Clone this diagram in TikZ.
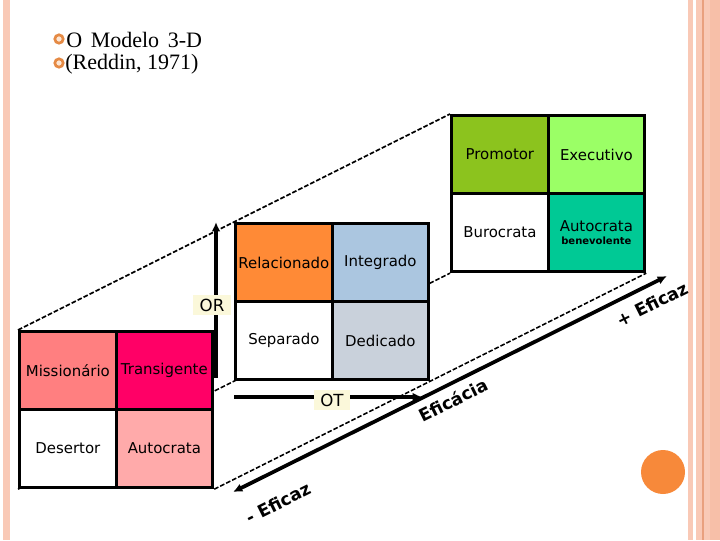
\documentclass[tikz,border=0pt]{standalone}
\usepackage{fontspec}
\setmainfont{Liberation Serif}
\newfontfamily\verd{DejaVu Sans}
\usetikzlibrary{arrows.meta,backgrounds}
\definecolor{stripe}{HTML}{F9C9B6}
\definecolor{stripeB}{HTML}{F7BFA8}
\definecolor{stripeLine}{HTML}{E9A07E}
\definecolor{bulletc}{HTML}{E58A45}
\definecolor{bulletin}{HTML}{FCE6D4}
\definecolor{cPro}{HTML}{8CC31E}
\definecolor{cExe}{HTML}{9BFF66}
\definecolor{cAut}{HTML}{00C995}
\definecolor{cRel}{HTML}{FF8A36}
\definecolor{cInt}{HTML}{ABC6E0}
\definecolor{cDed}{HTML}{C9D1DB}
\definecolor{cMis}{HTML}{FF7F80}
\definecolor{cTra}{HTML}{FF0066}
\definecolor{cAul}{HTML}{FFAAAA}
\definecolor{dotc}{HTML}{F7893A}
\definecolor{labbg}{HTML}{FBF8DA}
\tikzset{
  cell/.style={draw=black, line width=2.4pt, minimum width=72.4pt, minimum height=58.5pt,
    inner sep=0pt, anchor=north west, font=\verd\fontsize{11.2}{13}\selectfont},
  dashline/.style={draw=black, line width=1.2pt, dash pattern=on 3.5pt off 1.5pt},
  axislabel/.style={fill=labbg, inner xsep=5pt, inner ysep=3pt, font=\verd\fontsize{12.5}{14}\selectfont},
  efflabel/.style={rotate=26.5, font=\verd\bfseries\fontsize{13}{15}\selectfont},
  bulletring/.style={draw=bulletc, fill=bulletin, line width=2pt},
  titletext/.style={anchor=west, inner sep=0pt, font=\fontsize{16.5}{19}\selectfont}
}
\begin{document}
\begin{tikzpicture}[x=0.75pt, y=-0.75pt]
\useasboundingbox (0,0) rectangle (720,540);
% side stripes
\fill[stripe] (3,0) rectangle (10,540);
\fill[stripe] (688,0) rectangle (693,540);
\fill[stripe] (696,0) rectangle (702,540);
\fill[stripeLine] (702,0) rectangle (703.5,540);
\fill[stripe] (703.5,0) rectangle (710,540);
\fill[stripeB] (710,0) rectangle (720,540);
% title
\draw[bulletring] (59,39) circle (4.2);
\draw[bulletring] (59,63) circle (4.2);
\node[titletext] (t1) at (66,40) {\spaceskip=6.5pt O Modelo 3-D};
\node[titletext] (t2) at (65,64) {(Reddin, 1971)};
% top-right grid
\node[cell, fill=cPro] (pro) at (450,114) {Promotor};
\node[cell, fill=cExe] (exe) at (546.5,114) {Executivo};
\node[cell, fill=white] (bur) at (450,192) {Burocrata};
\node[cell, fill=cAut, align=center] (aut) at (546.5,192) {Autocrata\\[-3pt]{\bfseries\fontsize{7.5}{9}\selectfont benevolente}};
% middle grid
\node[cell, fill=cRel] (rel) at (234,222) {Relacionado};
\node[cell, fill=cInt] (int) at (330.5,222) {Integrado};
\node[cell, fill=white] (sep) at (234,300) {Separado};
\node[cell, fill=cDed] (ded) at (330.5,300) {Dedicado};
% lower-left grid
\node[cell, fill=cMis] (mis) at (18,330) {Missionário};
\node[cell, fill=cTra] (tra) at (114.5,330) {Transigente};
\node[cell, fill=white] (des) at (18,408) {Desertor};
\node[cell, fill=cAul] (aul) at (114.5,408) {Autocrata};
% dashed projection lines
\begin{scope}[on background layer]
\draw[dashline] (des.south west) -- (sep.south west) -- (bur.south west);
\end{scope}
\draw[dashline] (mis.north west) -- (rel.north west) -- (pro.north west);
\draw[dashline] (aul.south east) -- (ded.south east) -- (aut.south east);
% OR axis
\coordinate (orB) at (216,378);
\coordinate (orT) at (216,222);
\draw[draw=black, line width=2.8pt, -{Latex[length=7pt,width=6.5pt]}] (orB) -- (orT);
\node[axislabel] (or) at (212,305) {OR};
% OT axis
\coordinate (otL) at (234,397);
\coordinate (otR) at (422,397);
\draw[draw=black, line width=2.8pt, -{Latex[length=7pt,width=6.5pt]}] (otL) -- (otR);
\node[axislabel] (ot) at (332,400) {OT};
% effectiveness axis
\coordinate (effL) at (233,492);
\coordinate (effR) at (667,276);
\draw[draw=black, line width=2.8pt, {Latex[length=7pt,width=6.5pt]}-{Latex[length=7pt,width=6.5pt]}] (effL) -- (effR);
\node[efflabel] (lo) at (278,503) {- Eficaz};
\node[efflabel] (mid) at (453,400) {Eficácia};
\node[efflabel] (hi) at (652,304) {+ Eficaz};
% orange dot
\fill[dotc] (663,472) circle (22);
\end{tikzpicture}
\end{document}
